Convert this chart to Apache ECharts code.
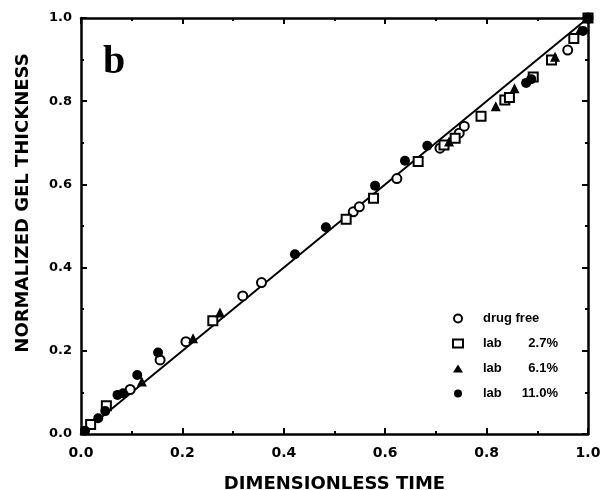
<!DOCTYPE html>
<html>
<head>
<meta charset="utf-8">
<script src="https://cdn.jsdelivr.net/npm/echarts@6/dist/echarts.min.js"></script>
<style>
  html, body { margin: 0; padding: 0; background: #fff; }
  #chart { width: 602px; height: 490px; }
</style>
</head>
<body>
<div id="chart"></div>
<script>
// x = dimensionless time, y = normalized gel thickness
const drugFree = [
    [0.097, 0.107], [0.156, 0.178], [0.207, 0.222], [0.319, 0.332], [0.356, 0.364],
    [0.537, 0.534], [0.549, 0.546], [0.623, 0.614], [0.708, 0.687], [0.746, 0.723],
    [0.756, 0.740], [0.960, 0.923], [1.0, 1.0]
];
const lab27 = [
    [0.019, 0.023], [0.050, 0.068], [0.260, 0.272], [0.523, 0.516], [0.577, 0.567],
    [0.665, 0.655], [0.716, 0.695], [0.738, 0.711], [0.789, 0.764], [0.836, 0.803],
    [0.845, 0.809], [0.892, 0.858], [0.928, 0.899], [0.972, 0.951], [1.0, 1.0]
];
const lab61 = [
    [0.120, 0.126], [0.221, 0.230], [0.274, 0.292], [0.726, 0.703], [0.818, 0.788],
    [0.855, 0.831], [0.935, 0.907], [0.984, 0.971], [1.0, 1.0]
];
const lab110 = [
    [0.008, 0.008], [0.034, 0.038], [0.048, 0.055], [0.072, 0.094], [0.083, 0.098],
    [0.111, 0.142], [0.152, 0.196], [0.422, 0.432], [0.483, 0.497], [0.580, 0.597],
    [0.639, 0.657], [0.683, 0.693], [0.878, 0.844], [0.888, 0.853], [0.990, 0.969],
    [1.0, 1.0]
];
const fitLine = [[0, 0], [1, 1]];

const seriesNames = ['drug free', 'lab 2.7%', 'lab 6.1%', 'lab 11.0%'];
const legendLabels = {
    'drug free': '{s|}{n|drug free}',
    'lab 2.7%': '{s|}{a|lab}{b|2.7%}',
    'lab 6.1%': '{s|}{a|lab}{b|6.1%}',
    'lab 11.0%': '{s|}{a|lab}{b|11.0%}'
};

const FONT = '"Liberation Sans", Arial, sans-serif';
const WIDE = '"DejaVu Sans", Verdana, sans-serif';

const chart = echarts.init(document.getElementById('chart'));

const axisBase = {
    type: 'value',
    min: 0,
    max: 1,
    interval: 0.2,
    axisLine: { show: true, onZero: false, lineStyle: { color: '#000', width: 2.5 } },
    axisTick: { show: true, inside: true, length: 6, lineStyle: { color: '#000', width: 2 } },
    minorTick: { show: true, splitNumber: 2, length: 3, lineStyle: { color: '#000', width: 2 } },
    splitLine: { show: false }
};

const legendText = { fontFamily: FONT, fontWeight: 'bold', fontSize: 13, color: '#000' };

const option = {
    backgroundColor: '#fff',
    animation: false,
    grid: { left: 81, right: 14, top: 18, bottom: 56, outerBoundsMode: 'none', containLabel: false },
    xAxis: [
        Object.assign({}, axisBase, {
            position: 'bottom',
            name: 'DIMENSIONLESS TIME',
            nameLocation: 'middle',
            nameGap: 41,
            nameTextStyle: { fontFamily: WIDE, fontWeight: 'bold', fontSize: 18, color: '#000' },
            axisLabel: {
                fontFamily: WIDE, fontWeight: 'bold', fontSize: 14, color: '#000', margin: 12,
                formatter: v => v.toFixed(1)
            }
        }),
        Object.assign({}, axisBase, { position: 'top', axisLabel: { show: false } })
    ],
    yAxis: [
        Object.assign({}, axisBase, {
            position: 'left',
            axisLabel: {
                fontFamily: WIDE, fontWeight: 'bold', fontSize: 13, color: '#000', margin: 9,
                formatter: v => v.toFixed(1)
            }
        }),
        Object.assign({}, axisBase, { position: 'right', axisLabel: { show: false } })
    ],
    legend: {
        data: seriesNames,
        orient: 'vertical',
        left: 447,
        top: 307,
        itemWidth: 10,
        itemHeight: 8,
        itemGap: 12,
        textStyle: Object.assign({}, legendText, {
            rich: {
                s: { width: 15 },
                n: legendText,
                a: Object.assign({ width: 22 }, legendText),
                b: Object.assign({ width: 53, align: 'right' }, legendText)
            }
        }),
        formatter: name => legendLabels[name]
    },
    graphic: [
        {
            type: 'text',
            left: 103,
            top: 43,
            style: { text: 'b', font: 'bold 40px "Liberation Serif", "DejaVu Serif", serif', fill: '#000' }
        },
        {
            type: 'text',
            x: 23,
            y: 203,
            rotation: Math.PI / 2,
            style: {
                text: 'NORMALIZED GEL THICKNESS',
                font: 'bold 18px ' + WIDE,
                fill: '#000',
                align: 'center',
                verticalAlign: 'middle'
            }
        }
    ],
    series: [
        {
            type: 'line',
            data: fitLine,
            showSymbol: false,
            lineStyle: { color: '#000', width: 2 },
            silent: true,
            z: 1
        },
        {
            name: 'drug free',
            type: 'scatter',
            data: drugFree,
            symbol: 'circle',
            symbolSize: 9,
            itemStyle: { color: '#fff', borderColor: '#000', borderWidth: 2, opacity: 1 },
            z: 3
        },
        {
            name: 'lab 2.7%',
            type: 'scatter',
            data: lab27,
            symbol: 'rect',
            symbolSize: 9,
            itemStyle: { color: '#fff', borderColor: '#000', borderWidth: 2, opacity: 1 },
            z: 3
        },
        {
            name: 'lab 6.1%',
            type: 'scatter',
            data: lab61,
            symbol: 'triangle',
            symbolSize: 10,
            itemStyle: { color: '#000', opacity: 1 },
            z: 3
        },
        {
            name: 'lab 11.0%',
            type: 'scatter',
            data: lab110,
            symbol: 'circle',
            symbolSize: 10,
            itemStyle: { color: '#000', opacity: 1 },
            z: 3
        }
    ]
};

chart.setOption(option);
</script>
</body>
</html>
